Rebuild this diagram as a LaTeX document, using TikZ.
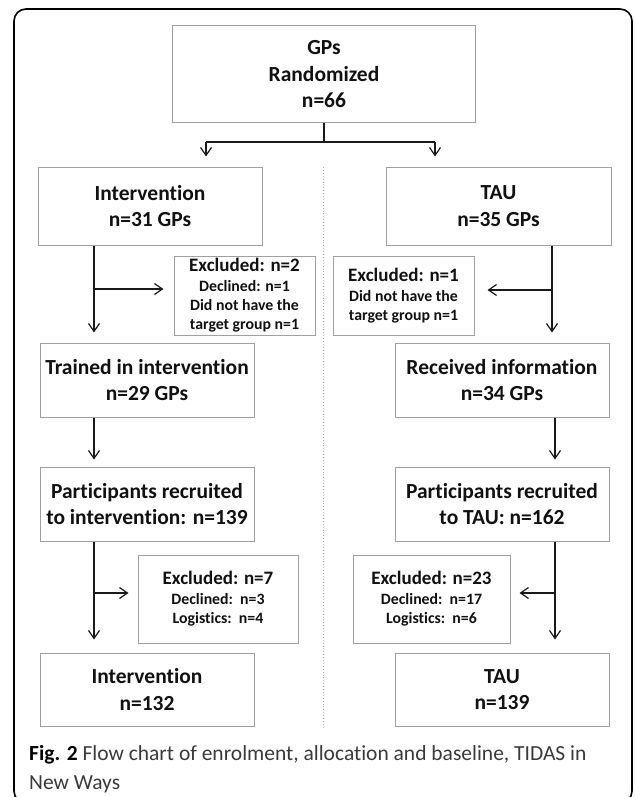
\documentclass[tikz,border=0pt]{standalone}
\usepackage{fontspec}
\setmainfont{Carlito}[Ligatures={NoCommon}]
\usetikzlibrary{arrows.meta}
\definecolor{boxgray}{HTML}{A0A0A0}
\definecolor{linecol}{HTML}{1A1A1A}
\definecolor{txt}{HTML}{111111}
\definecolor{capgray}{HTML}{3A3A3A}
\definecolor{divgray}{HTML}{B0B0B0}
\begin{document}
\begin{tikzpicture}[x=1pt,y=-1pt,
  box/.style={draw=boxgray, line width=1pt, rectangle, align=center, inner sep=0pt,
    text=txt, font=\bfseries\fontsize{21.5}{26.5}\selectfont},
  exbox/.style={draw=boxgray, line width=1pt, rectangle, align=center, inner sep=0pt,
    text=txt, font=\bfseries\fontsize{15.8}{19}\selectfont},
  line/.style={draw=linecol, line width=1.2pt},
  arr/.style={line, -{Straight Barb[length=8pt,width=11pt,line width=1.2pt]}},
  divider/.style={draw=divgray, line width=0.9pt, dotted},
  frame/.style={draw=black, line width=1.6pt, rounded corners=12pt}
]
\useasboundingbox (0,0) rectangle (634,797);
\clip (0,0) rectangle (634,797);
\draw[frame] (14,9) rectangle (632,803);

% boxes
\node[box, minimum width=303pt, minimum height=97pt] (top) at (324,74.5) {GPs\\Randomized\\n=66};
\node[box, minimum width=224pt, minimum height=78pt] (int) at (150,206) {Intervention\\n=31 GPs};
\node[box, minimum width=225pt, minimum height=78pt] (tau) at (498.5,206) {TAU\\n=35 GPs};
\node[exbox, minimum width=141pt, minimum height=79pt] (exL1) at (244.5,295.5)
  {{\fontsize{19}{21}\selectfont Excluded: n=2}\\[1pt]Declined: n=1\\Did not have the\\target group n=1};
\node[exbox, minimum width=141pt, minimum height=79pt] (exR1) at (403.5,295.5)
  {{\fontsize{19}{21}\selectfont Excluded: n=1}\\[1pt]Did not have the\\target group n=1};
\node[box, minimum width=214pt, minimum height=74pt] (trained) at (147,380) {Trained in intervention\\n=29 GPs};
\node[box, minimum width=214pt, minimum height=74pt] (received) at (502,380) {Received information\\n=34 GPs};
\node[box, minimum width=214pt, minimum height=74pt] (partL) at (147,504) {Participants recruited\\to intervention: n=139};
\node[box, minimum width=214pt, minimum height=74pt] (partR) at (502,504) {Participants recruited\\to TAU: n=162};
\node[exbox, minimum width=160pt, minimum height=88pt] (exL2) at (218,599)
  {{\fontsize{19}{21}\selectfont Excluded: n=7}\\[1pt]Declined:~~n=3\\Logistics:~~n=4};
\node[exbox, minimum width=157pt, minimum height=88pt] (exR2) at (431.5,599)
  {{\fontsize{19}{21}\selectfont Excluded: n=23}\\[1pt]Declined:~~n=17\\Logistics:~~n=6};
\node[box, minimum width=214pt, minimum height=73pt] (finL) at (147,689.5) {Intervention\\n=132};
\node[box, minimum width=214pt, minimum height=73pt] (finR) at (502,689.5) {TAU\\n=139};

% divider
\coordinate (d1) at (323,167);
\coordinate (d2) at (323,727);
\draw[divider] (d1) -- (d2);

% helper coordinates
\coordinate (sL) at (206,142);
\coordinate (sR) at (435,142);
\coordinate (cL) at (94,0);
\coordinate (cR) at (552,0);
\coordinate (cR2) at (555,0);
\coordinate (h1) at (94,289);
\coordinate (h2) at (552,290);
\coordinate (h3) at (94,593);
\coordinate (h4) at (555,593);

% top split
\draw[line] (top.south) -- (top.south |- sL);
\draw[line] (sL) -- (sR);
\draw[arr, shorten >=10pt] (sL) -- (sL |- int.north);
\draw[arr, shorten >=10pt] (sR) -- (sR |- tau.north);

% left column
\draw[arr, shorten >=10pt] (int.south -| cL) -- (trained.north -| cL);
\draw[arr, shorten >=10pt] (h1) -- (h1 -| exL1.west);
\draw[arr, shorten >=7pt] (trained.south -| cL) -- (partL.north -| cL);
\draw[arr, shorten >=13pt] (partL.south -| cL) -- (finL.north -| cL);
\draw[arr, shorten >=9pt] (h3) -- (h3 -| exL2.west);

% right column
\draw[arr, shorten >=10pt] (tau.south -| cR) -- (received.north -| cR);
\draw[arr, shorten >=13pt] (h2) -- (h2 -| exR1.east);
\draw[arr, shorten >=7pt] (received.south -| cR2) -- (partR.north -| cR2);
\draw[arr, shorten >=13pt] (partR.south -| cR2) -- (finR.north -| cR2);
\draw[arr, shorten >=9pt] (h4) -- (h4 -| exR2.east);

% caption
\node[anchor=west, align=left, inner sep=0pt, text=capgray,
  font=\fontsize{21.5}{29}\selectfont] (cap) at (29,769.5)
  {{\bfseries\color{black}Fig. 2} Flow chart of enrolment, allocation and baseline, TIDAS in\\New Ways};
\end{tikzpicture}
\end{document}
